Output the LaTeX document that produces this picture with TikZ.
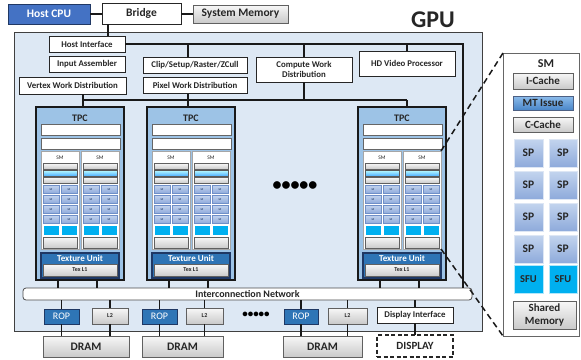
\documentclass[tikz,border=0pt]{standalone}
\usepackage{fontspec}
\setmainfont{Carlito}
\definecolor{gpubg}{HTML}{DDE8F4}
\definecolor{hostblue}{HTML}{4472C4}
\definecolor{hostdark}{HTML}{203864}
\definecolor{tpcfill}{HTML}{9DC3E6}
\definecolor{texblue}{HTML}{2E74B5}
\definecolor{texdark}{HTML}{1F3864}
\definecolor{ropblue}{HTML}{2E75B6}
\definecolor{sptop}{HTML}{C3D4EE}
\definecolor{spbot}{HTML}{8EAADB}
\definecolor{spline}{HTML}{6F8FC8}
\definecolor{sfucyan}{HTML}{00B0F0}
\definecolor{mttop}{HTML}{8CBCEB}
\definecolor{mtbot}{HTML}{4A86C8}
\definecolor{txt}{HTML}{262626}
\tikzset{
  base/.style={anchor=north west, inner sep=0pt, outer sep=0pt, align=center, text=txt},
  wbox/.style={base, draw=black!85, line width=0.9pt, fill=white},
  gbox/.style={base, draw=gray!75!black, line width=0.8pt, top color=gray!6, bottom color=gray!42},
  hbox/.style={base, draw=hostdark, line width=0.9pt, fill=hostblue, text=white},
  ropbox/.style={base, draw=texdark, line width=0.9pt, fill=ropblue, text=white, font=\fontsize{10}{10}\selectfont},
  tpcbox/.style={base, draw=black!90, line width=1.3pt, fill=tpcfill},
  texbox/.style={base, draw=texdark, line width=1.2pt, fill=texblue},
  smbox/.style={base, draw=gray!70, line width=0.7pt, fill=white},
  wbar/.style={base, draw=gray!80!black, line width=0.6pt, fill=white},
  gsmall/.style={base, draw=gray!75!black, line width=0.5pt, top color=gray!5, bottom color=gray!40},
  bsmall/.style={base, draw=gray!70!black, line width=0.5pt, top color=cyan!25, bottom color=cyan!55!blue!70},
  spsmall/.style={base, draw=spline, line width=0.4pt, top color=sptop, bottom color=spbot, font=\fontsize{2.6}{3}\bfseries, text=hostdark},
  sfusmall/.style={base, draw=white, line width=0.5pt, fill=sfucyan},
  spbig/.style={base, draw=white!70!spbot, line width=1pt, top color=sptop, bottom color=spbot, font=\fontsize{11.5}{12}\bfseries},
  sfubig/.style={base, draw=white!70!sfucyan, line width=1pt, fill=sfucyan, font=\fontsize{10.5}{11}\bfseries},
  mtbox/.style={base, draw=hostdark!80, line width=0.8pt, top color=mttop, bottom color=mtbot, font=\fontsize{11}{11}\bfseries},
  wire/.style={line width=1.1pt, draw=black!90},
  dashline/.style={line width=1.5pt, draw=black!90, dash pattern=on 6pt off 4pt},
}
\newcommand\bx[7]{\node[#2,minimum width=#5pt,minimum height=#6pt] (#1) at (#3,#4) {#7};}
\newcommand\tpcunit[2]{%
\begin{scope}[xshift=#2pt]
  \node[tpcbox, minimum width=88pt, minimum height=173pt] (tpc#1) at (36,107) {};
  \node[font=\fontsize{10}{10}\bfseries, text=txt] (tpc#1-l) at (80,118.5) {TPC};
  \bx{tpc#1-w1}{wbar}{41}{124}{79}{11}{}
  \bx{tpc#1-w2}{wbar}{41}{138}{79}{11}{}
  \foreach \s/\sx in {a/0,b/40}{
    \begin{scope}[xshift=\sx pt]
      \bx{tpc#1\s}{smbox}{41}{151}{38}{98}{}
      \node[font=\fontsize{5.5}{6}\selectfont, text=txt] (tpc#1\s-l) at (60,158) {SM};
      \bx{tpc#1\s-c1}{gsmall}{43}{163}{34}{6}{}
      \bx{tpc#1\s-c2}{bsmall}{43}{170}{34}{6}{}
      \bx{tpc#1\s-c3}{gsmall}{43}{177}{34}{6}{}
      \foreach \r/\ry in {1/185,2/195,3/205,4/215}{
        \bx{tpc#1\s-p\r1}{spsmall}{43}{\ry}{16}{8.5}{SP}
        \bx{tpc#1\s-p\r2}{spsmall}{61}{\ry}{16}{8.5}{SP}
      }
      \bx{tpc#1\s-f1}{sfusmall}{43}{225}{16}{10}{}
      \bx{tpc#1\s-f2}{sfusmall}{61}{225}{16}{10}{}
      \bx{tpc#1\s-m}{gsmall}{43}{237}{34}{11}{}
    \end{scope}
  }
  \bx{tpc#1-t}{texbox}{41}{253}{78}{25}{}
  \node[font=\fontsize{9}{9}\bfseries, text=white] (tpc#1-tl) at (80,258.5) {Texture Unit};
  \bx{tpc#1-x}{gsmall, font=\fontsize{6}{6}\bfseries}{43}{264}{74}{12}{Tex L1}
\end{scope}}
\begin{document}
\begin{tikzpicture}[x=1pt,y=-1pt]
\useasboundingbox (0,0) rectangle (581,359);
% GPU frame
\node[base, draw=black!75, line width=1pt, fill=gpubg, minimum width=468pt, minimum height=299pt] (gpu) at (14,32) {};
\node[font=\fontsize{24}{24}\bfseries, text=txt] (gpulbl) at (433,20) {GPU};
% top row
\bx{hostcpu}{hbox, font=\fontsize{11.5}{12}\bfseries}{8}{4}{82}{20}{Host CPU}
\bx{bridge}{wbox, font=\fontsize{11.5}{12}\bfseries}{102}{3}{79}{21}{Bridge}
\bx{sysmem}{gbox, font=\fontsize{11.5}{12}\bfseries}{193}{5}{95}{18}{System Memory}
% front end
\bx{hostif}{wbox, font=\fontsize{8.8}{9}\bfseries}{49}{36}{76}{16}{Host Interface}
\bx{inasm}{wbox, font=\fontsize{8.8}{9}\bfseries}{49}{56}{76}{16}{Input Assembler}
\bx{vwd}{wbox, font=\fontsize{8.8}{9}\bfseries}{19}{77}{107}{17}{Vertex Work Distribution}
\bx{clip}{wbox, font=\fontsize{8.8}{9}\bfseries}{143}{57}{104}{16}{Clip/Setup/Raster/ZCull}
\bx{pwd}{wbox, font=\fontsize{8.8}{9}\bfseries}{143}{77.5}{104}{16}{Pixel Work Distribution}
\bx{cwd}{wbox, font=\fontsize{8.8}{10}\bfseries}{256}{57}{96}{25}{Compute Work\\Distribution}
\bx{hdv}{wbox, font=\fontsize{8.8}{9}\bfseries}{359}{51}{96}{25}{HD Video Processor}
% TPCs
\tpcunit{1}{0}
\tpcunit{2}{111}
\tpcunit{3}{322}
\node[font=\fontsize{18}{18}\bfseries, text=black] (dots1) at (295,186) {•••••};
% interconnect
\node[base, draw=black!70, line width=0.8pt, fill=white, rounded corners=3pt, minimum width=449pt, minimum height=12pt, font=\fontsize{10}{10}\bfseries] (icn) at (23,288) {Interconnection Network};
% memory partitions
\bx{rop1}{ropbox}{44}{309}{35}{15}{ROP}
\bx{l2a}{gbox, font=\fontsize{6}{6}\bfseries}{92}{308}{36}{16}{L2}
\bx{rop2}{ropbox}{142}{309}{35}{15}{ROP}
\bx{l2b}{gbox, font=\fontsize{6}{6}\bfseries}{186}{308}{37}{16}{L2}
\bx{rop3}{ropbox}{284}{309}{34}{15}{ROP}
\bx{l2c}{gbox, font=\fontsize{6}{6}\bfseries}{328}{308}{39}{16}{L2}
\bx{dispif}{wbox, font=\fontsize{8.8}{9}\bfseries}{377}{307}{76}{16}{Display Interface}
\node[font=\fontsize{11}{11}\bfseries, text=black] (dots2) at (256,315) {•••••};
\bx{dram1}{gbox, font=\fontsize{11.5}{12}\bfseries}{43}{336}{86}{21}{DRAM}
\bx{dram2}{gbox, font=\fontsize{11.5}{12}\bfseries}{142}{336}{81}{21}{DRAM}
\bx{dram3}{gbox, font=\fontsize{11.5}{12}\bfseries}{283}{336}{79}{21}{DRAM}
\bx{display}{wbox, dash pattern=on 4pt off 2.5pt, line width=1.4pt, font=\fontsize{11}{12}\bfseries}{377}{335}{76}{22}{DISPLAY}
% SM detail panel
\node[base, draw=black!60, line width=1pt, fill=white, minimum width=76pt, minimum height=283pt] (smp) at (503,53) {};
\node[font=\fontsize{12}{12}\bfseries, text=txt] (smplbl) at (546,64) {SM};
\bx{icache}{gbox, font=\fontsize{11}{11}\bfseries}{513}{73}{60}{16}{I-Cache}
\bx{mtissue}{mtbox}{513}{96}{60}{14}{MT Issue}
\bx{ccache}{gbox, font=\fontsize{11}{11}\bfseries}{513}{117}{60}{15}{C-Cache}
\foreach \r/\ry in {1/139,2/171,3/203,4/235}{
  \bx{sp\r1}{spbig}{514}{\ry}{29}{28}{SP}
  \bx{sp\r2}{spbig}{549}{\ry}{28}{28}{SP}
}
\bx{sfu1}{sfubig}{514}{265}{29}{28}{SFU}
\bx{sfu2}{sfubig}{549}{265}{28}{28}{SFU}
\bx{shmem}{gbox, font=\fontsize{11}{12.5}\bfseries}{513}{301}{63}{28}{Shared\\Memory}
% connectors: top
\draw[wire] (hostcpu.east) -- (hostcpu.east -| bridge.west);
\draw[wire] (sysmem.west -| bridge.east) -- (sysmem.west);
\draw[wire] ([xshift=6pt]bridge.south west) -- ([xshift=6pt]bridge.south west |- hostif.north);
% host interface bus
\coordinate (hbR) at (463,44);
\coordinate (cA) at (83,100);
\coordinate (cB) at (188,100);
\coordinate (cC) at (407,100);
\draw[wire] (hostif.east) -- (hbR) -- (hbR |- icn.north);
\draw[wire] (clip.north -| cB) -- (hbR -| cB);
\draw[wire] (cwd.north) -- (hbR -| cwd.north);
\draw[wire] (hdv.north) -- (hbR -| hdv.north);
% work distribution bus
\draw[wire] (cA) -- (cC);
\draw[wire] (vwd.south -| cA) -- (tpc1.north -| cA);
\draw[wire] (pwd.south -| cB) -- (tpc2.north -| cB);
\draw[wire] (cwd.south) -- (cA -| cwd.south);
\draw[wire] (cC) -- (tpc3.north -| cC);
% TPC to interconnect
\foreach \t in {1,2,3}{
  \draw[wire] ([xshift=22pt]tpc\t.south west) -- ([xshift=22pt]tpc\t.south west |- icn.north);
  \draw[wire] ([xshift=61pt]tpc\t.south west) -- ([xshift=61pt]tpc\t.south west |- icn.north);
}
% interconnect to partitions and DRAM
\foreach \p/\d in {rop1/dram1,l2a/dram1,rop2/dram2,l2b/dram2,rop3/dram3,l2c/dram3,dispif/display}{
  \draw[wire] (icn.south -| \p.north) -- (\p.north);
  \draw[wire] (\p.south) -- (\p.south |- \d.north);
}
% zoom lines
\draw[dashline] (tpc3b.north east) -- (smp.north west);
\draw[dashline] (tpc3b.south east) -- (smp.south west);
\end{tikzpicture}
\end{document}
